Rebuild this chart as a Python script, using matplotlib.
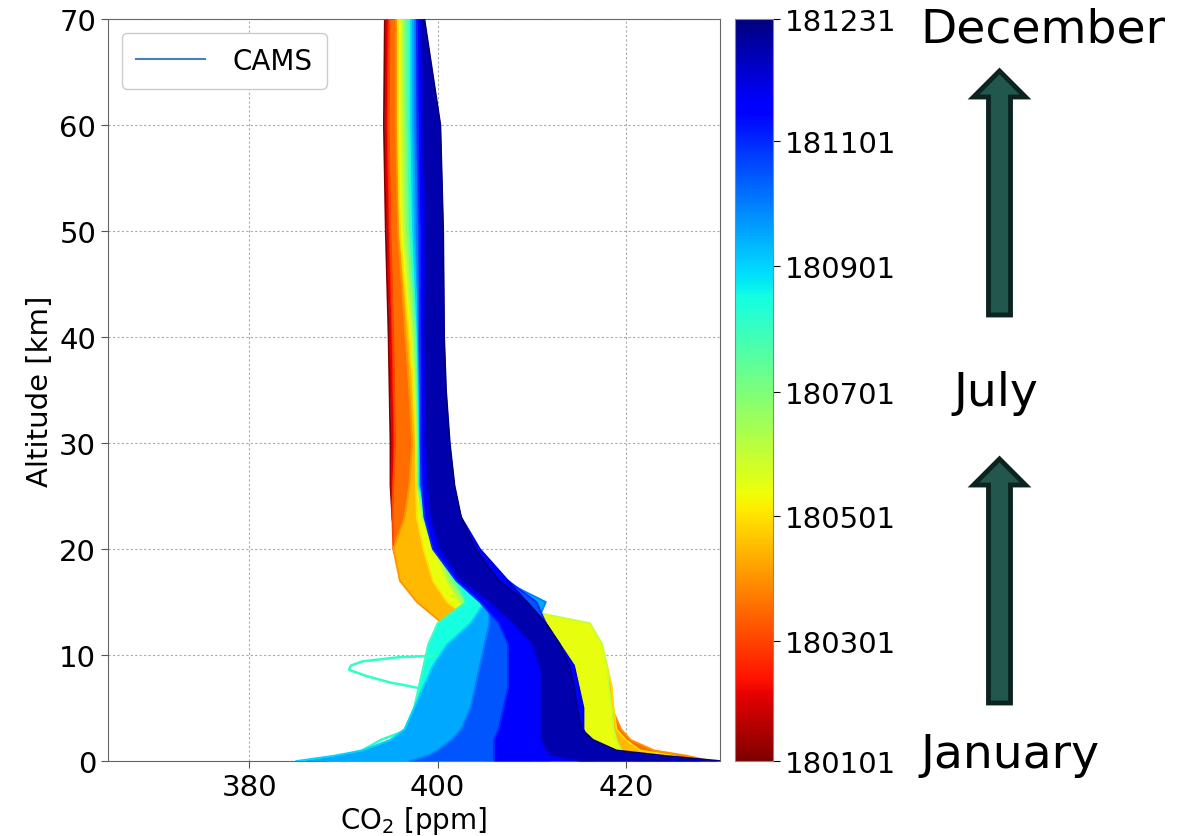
import numpy as np
import matplotlib
matplotlib.use("Agg")
import matplotlib.pyplot as plt
import matplotlib.colors as mcolors
from matplotlib.lines import Line2D
from matplotlib.patches import Polygon

# altitude levels of the CAMS profiles [km]
alt_km = [0, 0.5, 1, 2, 3, 5, 7, 9, 11, 13, 15, 17, 20, 23, 26, 30, 35, 40, 50, 60, 70]

# monthly spread of the CO2 profiles [ppm]: lowest and highest value at each level
jan_lo = [420, 416, 414, 412, 411, 410, 410, 409.5, 408, 404, 400, 397.5, 395.6, 395.2, 395.0, 395.0, 394.9, 394.8, 394.5, 394.3, 394.4]
jan_hi = [428, 424, 421, 419, 418, 417, 416.5, 416, 414, 409, 404, 400.5, 398.5, 397.6, 397.3, 397.0, 396.6, 396.3, 395.6, 395.3, 395.2]
feb_lo = [421, 417, 415, 413, 412, 411, 410.5, 410, 408, 404, 399.5, 397, 395.6, 395.2, 395.1, 395.2, 395.1, 395.0, 394.7, 394.5, 394.6]
feb_hi = [428, 425, 422, 420, 419, 418, 417.5, 416.5, 414.5, 409.5, 403.5, 400.5, 398.8, 397.8, 397.5, 397.3, 396.9, 396.6, 395.8, 395.5, 395.4]
mar_lo = [419, 416, 415, 414, 413, 412.5, 412, 411, 409, 404.5, 399, 396.5, 395.3, 395.2, 395.3, 395.5, 395.4, 395.3, 395.0, 394.8, 394.9]
mar_hi = [429, 426.5, 423, 420.5, 419.5, 418.5, 418, 417.5, 415.5, 410, 403.5, 401, 399.2, 398.2, 397.8, 397.6, 397.2, 396.9, 396.1, 395.8, 395.7]
apr_lo = [417, 415, 414, 413.5, 413, 412.5, 412, 411, 406, 400.5, 397.8, 396, 395.3, 396.5, 397.0, 397.3, 397.0, 396.6, 395.8, 395.6, 395.6]
apr_hi = [427, 425, 421.5, 420, 419, 418.7, 418.5, 418, 414, 406, 403, 401.5, 399.5, 398.3, 398.0, 397.9, 397.6, 397.3, 396.5, 396.1, 396.0]
may_lo = [417, 415, 414, 413.5, 413, 413, 412.5, 412, 411, 404, 401, 399.5, 398.5, 397.8, 397.7, 397.7, 397.4, 397.0, 396.0, 395.8, 395.8]
may_hi = [421, 420, 419.5, 419, 418.7, 418.5, 418.2, 418, 417.5, 416.2, 405, 402.5, 400.2, 398.8, 398.2, 398.1, 397.9, 397.6, 396.8, 396.5, 396.4]
jun_lo = [410, 408, 407, 406, 406, 406.5, 407, 408, 408, 405, 402.3, 401, 399.8, 398.3, 397.9, 397.8, 397.6, 397.3, 396.4, 396.2, 396.2]
jun_hi = [417, 416, 415, 414, 413, 413, 413, 413, 411.5, 409.5, 404.5, 402.5, 400.6, 399, 398.3, 398.2, 398.0, 397.8, 397.2, 396.9, 396.8]
jul_lo = [400, 399, 399, 400, 401, 402, 402.5, 403, 403, 403, 403, 401.5, 400, 398.5, 397.9, 397.9, 397.8, 397.6, 396.8, 396.6, 396.5]
jul_hi = [413, 412, 411, 410, 410, 410, 410.5, 411, 411, 410.5, 406, 403.5, 401, 399.2, 398.4, 398.3, 398.1, 398.0, 397.5, 397.2, 397.1]
aug_lo = [388, 391, 393, 395, 396.5, 397.5, 398, 398.5, 399, 400, 403, 402, 400.2, 398.7, 398.0, 398.0, 397.9, 397.8, 397.1, 396.9, 396.9]
aug_hi = [405, 406, 406.5, 407, 407.5, 408, 408.5, 409, 410, 410.5, 409.5, 404.5, 401.3, 399.5, 398.5, 398.4, 398.3, 398.2, 397.8, 397.6, 397.5]
sep_lo = [385, 389, 392, 395, 396.5, 397.5, 398.5, 399.5, 401, 403.5, 405, 403, 400.5, 399, 398.1, 398.1, 398.0, 397.9, 397.4, 397.2, 397.2]
sep_hi = [400, 404, 405.5, 407, 407.5, 408, 408.5, 409, 409.5, 410.5, 411.5, 407, 402, 400, 398.7, 398.5, 398.4, 398.4, 398.0, 397.8, 397.7]
oct_lo = [397, 399, 400, 401.5, 402.5, 403.5, 404, 404.5, 405, 405.5, 405.5, 403, 400.3, 398.9, 398.2, 398.2, 398.1, 398.0, 397.8, 397.6, 397.6]
oct_hi = [412, 411, 410.5, 410.5, 411, 411.5, 412, 412, 412, 411.5, 410.5, 407.5, 403, 400.5, 399.6, 399.2, 398.9, 398.8, 398.6, 398.3, 398.1]
nov_lo = [406, 406, 406, 406, 406.5, 407, 407.5, 407.5, 407.5, 406.5, 404.5, 402, 399.5, 398.6, 398.3, 398.2, 398.2, 398.1, 398.1, 397.9, 397.8]
nov_hi = [428, 420, 417, 416, 415.5, 415.5, 415, 414.5, 413, 411.5, 409.5, 407.5, 404.5, 402.5, 401.5, 401.0, 400.6, 400.4, 400.3, 399.8, 398.4]
dec_lo = [415, 412, 411.5, 411, 411, 411, 411, 410.8, 410, 408, 405.5, 402.5, 400.2, 399.2, 398.9, 398.7, 398.6, 398.5, 398.6, 398.4, 398.2]
dec_hi = [430, 424, 419, 416.5, 415.3, 414.8, 414.5, 414, 413, 411.5, 409.5, 406.5, 404, 402.5, 401.8, 401.3, 400.9, 400.7, 400.6, 400.3, 398.6]

# first and last day of each month (day of year, 0 = 1 Jan 2018)
month_start = [0, 31, 59, 90, 120, 151, 181, 212, 243, 273, 304, 334]
month_end = [30, 58, 89, 119, 150, 180, 211, 242, 272, 303, 333, 364]

# single early-August profile with the dip near 9 km
dip_day = 215
dip_alt = [70, 60, 50, 40, 30, 20, 17, 15, 13, 11, 10, 9.8, 9.4, 9.0, 8.6, 8.0, 7.4, 6.8, 6, 5, 4, 3, 2, 1, 0.5, 0]
dip_co2 = [397.1, 397.2, 397.4, 397.9, 398.3, 400.5, 403, 407, 406, 404, 402, 396, 392, 390.8, 390.6, 392.5, 395, 398.5, 399, 398, 398.5, 397, 394, 392, 390, 387]

# colorbar ticks
cbar_days = [0, 59, 120, 181, 243, 304, 364]
cbar_labels = ['180101', '180301', '180501', '180701', '180901', '181101', '181231']

co2_lo = [jan_lo, feb_lo, mar_lo, apr_lo, may_lo, jun_lo, jul_lo, aug_lo, sep_lo, oct_lo, nov_lo, dec_lo]
co2_hi = [jan_hi, feb_hi, mar_hi, apr_hi, may_hi, jun_hi, jul_hi, aug_hi, sep_hi, oct_hi, nov_hi, dec_hi]

W, H = 1193, 837
fig = plt.figure(figsize=(W / 100, H / 100), dpi=100)
ax = fig.add_axes([108 / W, 75 / H, 612 / W, 742 / H])
cax = fig.add_axes([735 / W, 75 / H, 38 / W, 742 / H])

cmap = plt.get_cmap('jet_r')
norm = mcolors.Normalize(vmin=0, vmax=364)

for i in range(12):
    c_mid = cmap(norm((month_start[i] + month_end[i]) / 2))
    ax.fill_betweenx(alt_km, co2_lo[i], co2_hi[i], color=c_mid, lw=0, zorder=2 + i)
    ax.plot(co2_lo[i], alt_km, color=cmap(norm(month_start[i])), lw=1.3, zorder=2 + i)
    ax.plot(co2_hi[i], alt_km, color=cmap(norm(month_end[i])), lw=1.3, zorder=2 + i)
    if i == 7:
        ax.plot(dip_co2, dip_alt, color=cmap(norm(dip_day)), lw=1.8, zorder=2 + i)

ax.set_xlim(365, 430)
ax.set_ylim(0, 70)
ax.set_xticks([380, 400, 420])
ax.set_yticks(range(0, 71, 10))
ax.tick_params(labelsize=21, length=5, color='#555555')
ax.grid(True, ls=(0, (2, 2)), color='#aaaaaa', lw=0.8, zorder=0)
ax.set_axisbelow(True)
for sp in ax.spines.values():
    sp.set_color('#666666')
ax.set_xlabel('CO$_2$ [ppm]', fontsize=20, labelpad=2)
ax.set_ylabel('Altitude [km]', fontsize=21, family=['Liberation Sans Narrow', 'DejaVu Sans'], labelpad=4)

handle = Line2D([], [], color='#4a7fbf', lw=1.5)
ax.legend([handle], ['CAMS'], loc='upper left', fontsize=20, handlelength=2.5,
          borderpad=0.5, handletextpad=1.0, framealpha=1, edgecolor='#cccccc')

sm = plt.cm.ScalarMappable(cmap=cmap, norm=norm)
sm.set_array([])
cb = fig.colorbar(sm, cax=cax, ticks=cbar_days)
cb.ax.set_yticklabels(cbar_labels)
cb.ax.tick_params(labelsize=21, length=5)
cb.outline.set_edgecolor('#888888')

# month annotation on the right, drawn in figure pixel coordinates
over = fig.add_axes([0, 0, 1, 1])
over.set_xlim(0, W)
over.set_ylim(H, 0)
over.axis('off')

def up_arrow(tip_y, base_y, cx=999.5):
    pts = [(cx, tip_y), (cx + 26, tip_y + 26), (cx + 11, tip_y + 26), (cx + 11, base_y),
           (cx - 11, base_y), (cx - 11, tip_y + 26), (cx - 26, tip_y + 26)]
    over.add_patch(Polygon(pts, closed=True, facecolor='#22574d', edgecolor='#0c241f',
                           lw=3.5, joinstyle='miter'))

up_arrow(72, 316)
up_arrow(460, 704)

over.text(1043, 30, 'December', fontsize=34, ha='center', va='center')
over.text(996, 394, 'July', fontsize=34, ha='center', va='center')
over.text(1010, 755, 'January', fontsize=34, ha='center', va='center')

fig.savefig('out.png', dpi=100)
